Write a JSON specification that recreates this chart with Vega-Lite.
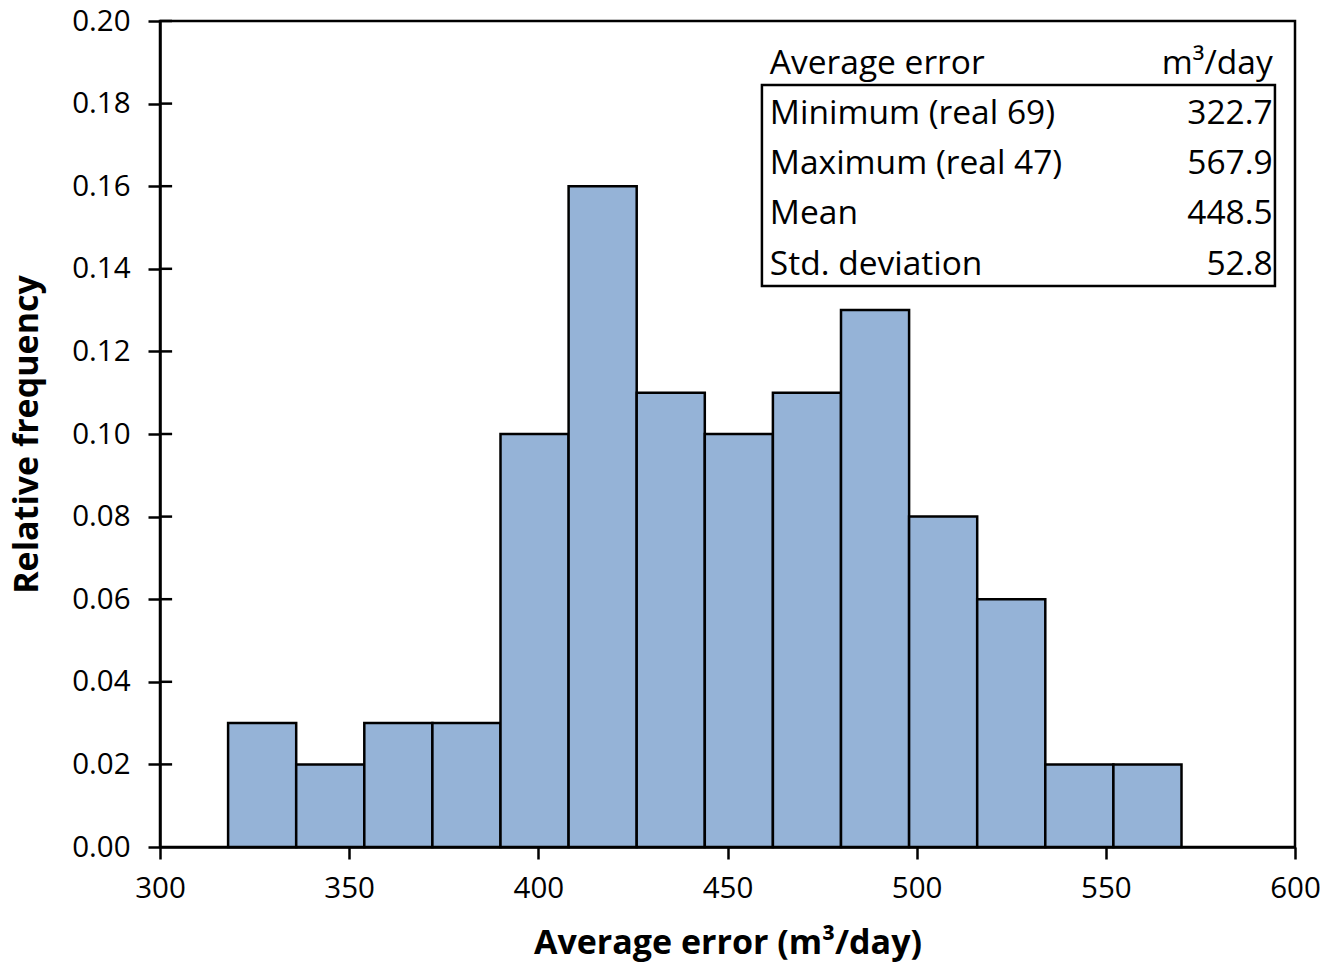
{
  "$schema": "https://vega.github.io/schema/vega-lite/v6.json",
  "width": 1135,
  "height": 826,
  "autosize": {"type": "none"},
  "padding": {"left": 160, "top": 21, "right": 40, "bottom": 122},
  "background": "white",
  "config": {
    "font": "Open Sans",
    "view": {"stroke": "black", "strokeWidth": 2.5},
    "axis": {
      "domainColor": "black", "domainWidth": 2.5, "tickColor": "black", "tickWidth": 2.5,
      "labelColor": "black", "titleColor": "black", "labelFont": "Open Sans", "titleFont": "Open Sans",
      "labelFontSize": 29.5, "titleFontSize": 34, "titleFontWeight": "bold", "grid": false, "labelFlush": false
    }
  },
  "datasets": {
    "bins": [
      {"bin_start": 318, "bin_end": 336, "freq": 0.03},
      {"bin_start": 336, "bin_end": 354, "freq": 0.02},
      {"bin_start": 354, "bin_end": 372, "freq": 0.03},
      {"bin_start": 372, "bin_end": 390, "freq": 0.03},
      {"bin_start": 390, "bin_end": 408, "freq": 0.10},
      {"bin_start": 408, "bin_end": 426, "freq": 0.16},
      {"bin_start": 426, "bin_end": 444, "freq": 0.11},
      {"bin_start": 444, "bin_end": 462, "freq": 0.10},
      {"bin_start": 462, "bin_end": 480, "freq": 0.11},
      {"bin_start": 480, "bin_end": 498, "freq": 0.13},
      {"bin_start": 498, "bin_end": 516, "freq": 0.08},
      {"bin_start": 516, "bin_end": 534, "freq": 0.06},
      {"bin_start": 534, "bin_end": 552, "freq": 0.02},
      {"bin_start": 552, "bin_end": 570, "freq": 0.02}
    ],
    "ticks": [
      {"t": 0.02}, {"t": 0.04}, {"t": 0.06}, {"t": 0.08}, {"t": 0.10},
      {"t": 0.12}, {"t": 0.14}, {"t": 0.16}, {"t": 0.18}, {"t": 0.20}
    ],
    "table": [
      {"row": 0, "label": "Average error", "value": "m³/day"},
      {"row": 1, "label": "Minimum (real 69)", "value": "322.7"},
      {"row": 2, "label": "Maximum (real 47)", "value": "567.9"},
      {"row": 3, "label": "Mean", "value": "448.5"},
      {"row": 4, "label": "Std. deviation", "value": "52.8"}
    ],
    "box": [{"top": 0.424, "bottom": 4.424}]
  },
  "resolve": {"scale": {"y": "independent"}},
  "layer": [
    {
      "data": {"name": "bins"},
      "mark": {"type": "rect", "fill": "#95B3D7", "stroke": "black", "strokeWidth": 2.5},
      "encoding": {
        "x": {
          "field": "bin_start", "type": "quantitative",
          "scale": {"domain": [300, 600], "nice": false, "zero": false},
          "axis": {"values": [300, 350, 400, 450, 500, 550, 600], "tickSize": 12, "labelPadding": 15, "titlePadding": 24, "title": "Average error (m³/day)"}
        },
        "x2": {"field": "bin_end"},
        "y": {
          "field": "freq", "type": "quantitative",
          "scale": {"domain": [0, 0.2], "nice": false},
          "axis": {"values": [0, 0.02, 0.04, 0.06, 0.08, 0.1, 0.12, 0.14, 0.16, 0.18, 0.2], "format": ".2f", "tickSize": 12, "labelPadding": 18, "titlePadding": 27, "title": "Relative frequency"}
        },
        "y2": {"datum": 0}
      }
    },
    {
      "data": {"name": "ticks"},
      "mark": {"type": "rule", "stroke": "black", "strokeWidth": 2.5},
      "encoding": {
        "x": {"datum": 300},
        "x2": {"datum": 303.2},
        "y": {"field": "t", "type": "quantitative", "scale": {"domain": [0, 0.2], "nice": false}, "axis": null}
      }
    },
    {
      "data": {"name": "table"},
      "layer": [
        {
          "mark": {"type": "text", "align": "left", "baseline": "middle", "fontSize": 33.5, "font": "Open Sans", "color": "black"},
          "encoding": {
            "x": {"datum": 461.2},
            "y": {"field": "row", "type": "quantitative", "scale": {"domain": [-0.85, 15.588], "reverse": true, "nice": false, "zero": false}, "axis": null},
            "text": {"field": "label"}
          }
        },
        {
          "mark": {"type": "text", "align": "right", "baseline": "middle", "fontSize": 33.5, "font": "Open Sans", "color": "black"},
          "encoding": {
            "x": {"datum": 594.1},
            "y": {"field": "row", "type": "quantitative", "axis": null},
            "text": {"field": "value"}
          }
        },
        {
          "data": {"name": "box"},
          "mark": {"type": "rect", "fill": null, "fillOpacity": 0, "stroke": "black", "strokeWidth": 2.5},
          "encoding": {
            "x": {"datum": 459.1},
            "x2": {"datum": 594.7},
            "y": {"field": "top", "type": "quantitative", "axis": null},
            "y2": {"field": "bottom"}
          }
        }
      ]
    }
  ]
}
